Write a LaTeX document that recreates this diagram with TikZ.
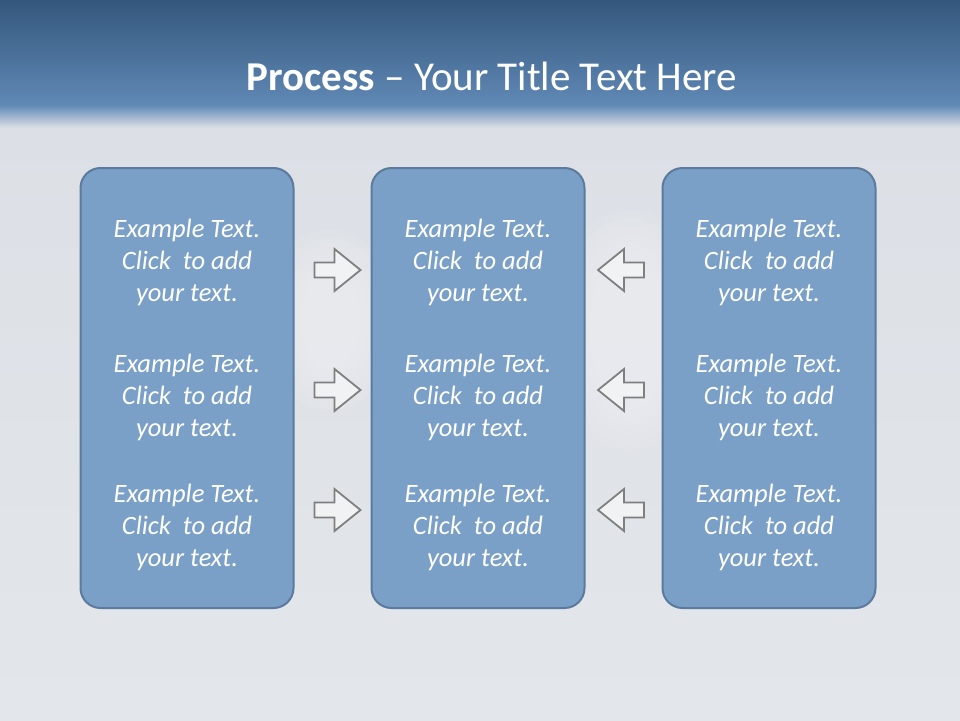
\documentclass[tikz,border=0pt]{standalone}
\usepackage{fontspec}
\setmainfont{Carlito}
\usetikzlibrary{positioning}
\definecolor{skytop}{HTML}{34577D}
\definecolor{skyband}{HTML}{6089B5}
\definecolor{hazetop}{HTML}{DCE0E6}
\definecolor{hazelow}{HTML}{E3E6EA}
\definecolor{boxfill}{HTML}{7AA0C7}
\definecolor{boxline}{HTML}{5B7A9D}
\definecolor{arrowgray}{HTML}{7F7F7F}
\definecolor{arrowfill}{HTML}{F1F2F4}
\tikzset{
  title/.style={font=\fontsize{41}{48}\selectfont, text=white},
  column/.style={
    rectangle, rounded corners=20pt, draw=boxline, line width=2pt,
    fill=boxfill, minimum width=213pt, minimum height=440pt
  },
  entry/.style={font=\fontsize{26.5}{32}\selectfont\itshape, text=white, align=center},
  blockarrow/.style={draw=arrowgray, fill=arrowfill, line width=1.8pt, line join=miter},
  cloud/.style={fill=white, opacity=0.07, draw=none}
}
\newcommand{\pushright}[1]{
  \draw[blockarrow, shift={(#1)}]
    (-23,-7.5) -- (-3,-7.5) -- (-3,-21) -- (23,0) -- (-3,21) -- (-3,7.5) -- (-23,7.5) -- cycle;
}
\newcommand{\pushleft}[1]{
  \draw[blockarrow, shift={(#1)}, xscale=-1]
    (-23,-7.5) -- (-3,-7.5) -- (-3,-21) -- (23,0) -- (-3,21) -- (-3,7.5) -- (-23,7.5) -- cycle;
}

\begin{document}
\begin{tikzpicture}[x=1pt, y=-1pt]
\useasboundingbox (0,0) rectangle (960,720);
% sky and haze
\fill[top color=hazetop, bottom color=hazelow] (0,120) rectangle (960,720);
\foreach \grow in {0,8,16,24,32,40} {
  \fill[cloud] (630,330) ellipse ({40+\grow} and {80+\grow});
  \fill[cloud] (330,320) ellipse ({30+\grow} and {50+\grow});
}
\fill[top color=skytop, bottom color=skyband] (0,0) rectangle (960,106);
\fill[top color=skyband, bottom color=hazetop] (0,105) rectangle (960,128);
\node[title] (head) at (492,76) {\textbf{Process} -- Your Title Text Here};
% three columns
\node[column] (left) at (187,388) {};
\node[column] (mid) at (478,388) {};
\node[column] (right) at (769,388) {};
\node[entry] (l1) at (187,262) {Example Text.\\Click\ \ to add\\your text.};
\node[entry] (l2) at (187,397) {Example Text.\\Click\ \ to add\\your text.};
\node[entry] (l3) at (187,527) {Example Text.\\Click\ \ to add\\your text.};
\node[entry] (m1) at (478,262) {Example Text.\\Click\ \ to add\\your text.};
\node[entry] (m2) at (478,397) {Example Text.\\Click\ \ to add\\your text.};
\node[entry] (m3) at (478,527) {Example Text.\\Click\ \ to add\\your text.};
\node[entry] (r1) at (769,262) {Example Text.\\Click\ \ to add\\your text.};
\node[entry] (r2) at (769,397) {Example Text.\\Click\ \ to add\\your text.};
\node[entry] (r3) at (769,527) {Example Text.\\Click\ \ to add\\your text.};
% arrows into the middle column
\foreach \row/\ypos in {1/270, 2/390, 3/510} {
  \coordinate (in\row) at (337.5,\ypos);
  \coordinate (back\row) at (621,\ypos);
  \pushright{in\row}
  \pushleft{back\row}
}
\end{tikzpicture}
\end{document}
